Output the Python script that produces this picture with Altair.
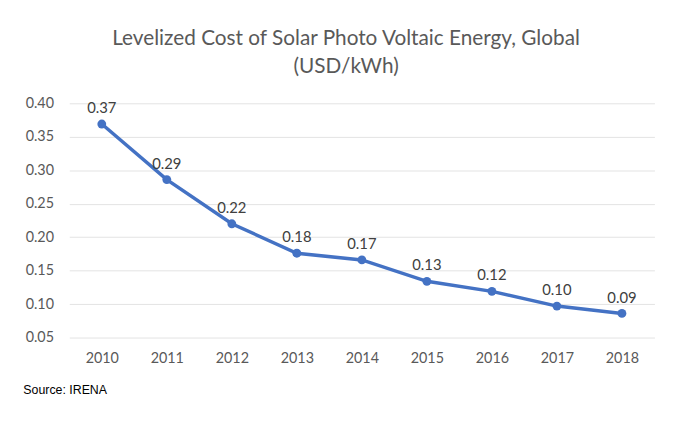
import altair as alt
import pandas as pd

years = ["2010", "2011", "2012", "2013", "2014", "2015", "2016", "2017", "2018"]
costs = [0.369, 0.286, 0.220, 0.176, 0.166, 0.134, 0.119, 0.097, 0.086]

df = pd.DataFrame({"year": years, "cost": costs})

W, H = 592, 237
blue = "#4472C4"
font = "Lato"

base = alt.Chart(df).encode(
    x=alt.X("year:O", sort=years, scale=alt.Scale(padding=0.5),
            axis=alt.Axis(title="Source: IRENA", labelAngle=0, labelFont=font, labelFontSize=14.5,
                          labelColor="#595959", labelPadding=14, ticks=False, domain=False,
                          grid=False,
                          titleFont="Liberation Sans", titleFontSize=12.5, titleFontWeight="normal",
                          titleColor="#000000", titleAnchor="start", titleAlign="left",
                          titleX=-47, titleY=53, titleBaseline="middle")),
    y=alt.Y("cost:Q", scale=alt.Scale(domain=[0.05, 0.40], nice=False, zero=False),
            axis=alt.Axis(title=None, values=[0.05, 0.10, 0.15, 0.20, 0.25, 0.30, 0.35, 0.40],
                          format=".2f", labelFont=font, labelFontSize=14.5, labelColor="#595959",
                          labelPadding=16, ticks=False, domain=False, gridColor="#E3E3E3",
                          gridWidth=1)),
)

line = base.mark_line(color=blue, strokeWidth=3.5)
pts = base.mark_point(filled=True, color=blue, size=80, opacity=1)
labels = base.mark_text(dy=-16, font=font, fontSize=15, color="#404040").encode(
    text=alt.Text("cost:Q", format=".2f")
)

chart = (line + pts + labels).properties(
    width=W, height=H,
    background="white",
    title=alt.TitleParams(
        text=["Levelized Cost of Solar Photo Voltaic Energy, Global", "(USD/kWh)"],
        font=font, fontSize=21, fontWeight="normal", color="#595959",
        anchor="middle", dx=-16, offset=19, lineHeight=28,
    ),
    autosize=alt.AutoSizeParams(type="none"),
    padding={"left": 62, "top": 94, "right": 38, "bottom": 80},
).configure_view(strokeWidth=0, stroke="transparent")

chart.save("out.html", embed_options={"renderer": "svg", "actions": False})
